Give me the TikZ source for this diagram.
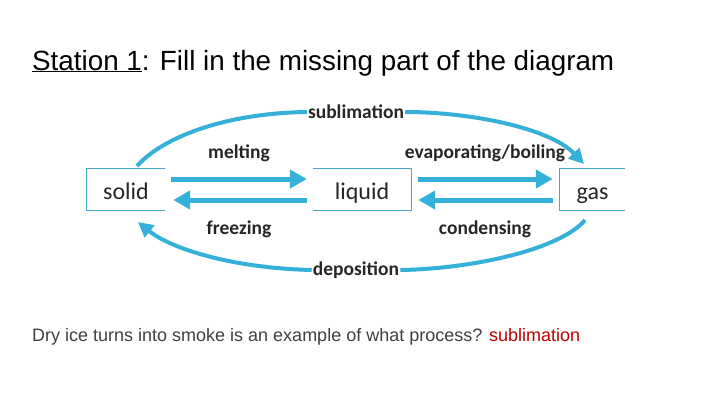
\documentclass[tikz,border=0pt]{standalone}
\usepackage{fontspec}
\setmainfont{Liberation Sans}
\newfontfamily\diagfont{Carlito}
\usetikzlibrary{arrows.meta}
\definecolor{arrowblue}{HTML}{35B0D8}
\definecolor{boxblue}{HTML}{4AA6C6}
\definecolor{textgray}{HTML}{404040}
\definecolor{answerred}{HTML}{C00000}
\tikzset{
  statebox/.style={minimum width=78pt, minimum height=41pt, inner sep=0pt, text height=22pt, text depth=2pt, font=\diagfont\fontsize{24}{24}\selectfont, text=black!85},
  boxline/.style={draw=boxblue, line width=0.8pt},
  fatarrow/.style={draw=arrowblue, line width=5pt, -{Triangle[length=17pt,width=18pt]}},
  curvearrow/.style={draw=arrowblue, line width=4pt},
  curvehead/.style={curvearrow, -{Triangle[length=15pt,width=15pt]}},
  proclabel/.style={font=\diagfont\bfseries\fontsize{19.5}{19.5}\selectfont, text=black!85, inner sep=1pt}
}
\begin{document}
\begin{tikzpicture}[x=1pt,y=-1pt]
\path[use as bounding box, fill=white] (0,0) rectangle (720,405);

% title
\node[anchor=base west, inner sep=0pt, font=\fontsize{27.8}{27.8}\selectfont] (title) at (32,70) {\underline{Station 1}: Fill in the missing part of the diagram};

% state boxes
\node[statebox] (solid) at (126,189.5) {solid};
\node[statebox, minimum width=98pt] (liquid) at (362,189.5) {liquid};
\node[statebox, minimum width=65pt] (gas) at (592.5,189.5) {gas};
\draw[boxline] (solid.north east) -- (solid.north west) -- (solid.south west) -- (solid.south east);
\draw[boxline] (liquid.north west) -- (liquid.north east) -- (liquid.south east) -- (liquid.south west);
\draw[boxline] (gas.north east) -- (gas.north west) -- (gas.south west) -- (gas.south east);

% straight arrows
\draw[fatarrow] ([xshift=6pt,yshift=10.5pt]solid.east) -- ([xshift=-6pt,yshift=10.5pt]liquid.west);
\draw[fatarrow] ([xshift=-6pt,yshift=-10.5pt]liquid.west) -- ([xshift=8pt,yshift=-10.5pt]solid.east);
\draw[fatarrow] ([xshift=7pt,yshift=10.5pt]liquid.east) -- ([xshift=-7pt,yshift=10.5pt]gas.west);
\draw[fatarrow] ([xshift=-7pt,yshift=-10.5pt]gas.west) -- ([xshift=7pt,yshift=-10.5pt]liquid.east);

% labels
\node[proclabel] (melting) at (239,153) {melting};
\node[proclabel] (freezing) at (239,229) {freezing};
\node[proclabel] (evap) at (485,153) {evaporating/boiling};
\node[proclabel] (cond) at (485,229) {condensing};
\node[proclabel] (sublim) at (356,112) {sublimation};
\node[proclabel] (depos) at (356,270) {deposition};

% curve anchors
\coordinate (solidtop) at (137,166);
\coordinate (solidbot) at (138,222);
\coordinate (gastop) at (584,164);
\coordinate (gasbot) at (585,220);

% sublimation
\draw[curvearrow] (solidtop) .. controls (165,135) and (230,113) .. (sublim.west);
\draw[curvehead] (sublim.east) .. controls (470,112) and (550,128) .. (gastop);
% deposition
\draw[curvearrow] (gasbot) .. controls (560,250) and (470,269) .. (depos.east);
\draw[curvehead] (depos.west) .. controls (230,268) and (170,248) .. (solidbot);

% question
\node[anchor=base west, inner sep=0pt, font=\fontsize{18}{18}\selectfont, text=textgray] (question) at (32,341) {Dry ice turns into smoke is an example of what process? \textcolor{answerred}{sublimation}};
\end{tikzpicture}
\end{document}
